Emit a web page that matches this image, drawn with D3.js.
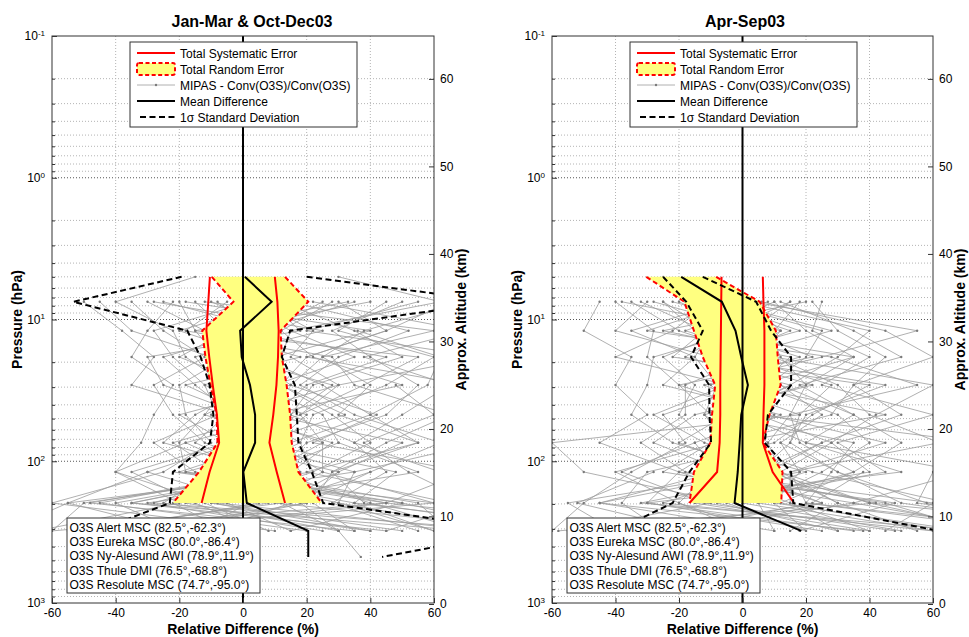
<!DOCTYPE html>
<html>
<head>
<meta charset="utf-8">
<script src="https://cdn.jsdelivr.net/npm/d3@7"></script>
<style>
  body { margin: 0; background: #fff; }
  svg { font-family: "Liberation Sans", Arial, sans-serif; }
</style>
</head>
<body>
<svg id="chart" width="969" height="637"></svg>
<script>
// pressure levels (hPa) of the comparison grid
const LEVELS = [5, 7.5, 12, 18.4, 29, 47, 74, 119, 197, 310, 473];
const X_TICKS = [-60, -40, -20, 0, 20, 40, 60];
const ALT_TICKS = [0, 10, 20, 30, 40, 50, 60];
const P_TICKS = [0.1, 1, 10, 100, 1000];
const TITLES = ["Jan-Mar & Oct-Dec03", "Apr-Sep03"];
const LEGEND_LABELS = ["Total Systematic Error", "Total Random Error",
  "MIPAS - Conv(O3S)/Conv(O3S)", "Mean Difference", "1\u03c3 Standard Deviation"];
const STATIONS = ["O3S Alert MSC (82.5\u00b0,-62.3\u00b0)", "O3S Eureka MSC (80.0\u00b0,-86.4\u00b0)",
  "O3S Ny-Alesund AWI (78.9\u00b0,11.9\u00b0)", "O3S Thule DMI (76.5\u00b0,-68.8\u00b0)",
  "O3S Resolute MSC (74.7\u00b0,-95.0\u00b0)"];

// Jan-Mar & Oct-Dec
const W_MEAN = [0.6, 9.0, -0.9, -0.4, 2.2, 3.8, 3.8, 0.1, 1.2, 20.5, 20.5];
const W_SD_LO = [-19.3, -53.3, -17.5, -13.3, -10.5, -9.3, -10.4, -22, -23, -46, -2.3];
const W_SD_HI = [20, 80, 14.8, 12.2, 16.3, 16.9, 17.4, 21.6, 25.2, 87, 43.7];
const W_SYS_LO = [-10.4, -10.9, -11.5, -10.6, -9.5, -8.2, -7.5, -10.5, -13];
const W_SYS_HI = [10.0, 10.8, 11.2, 11.0, 10.5, 9.5, 8.3, 10.6, 13.2];
const W_RND_LO = [-9.8, -3.0, -12.8, -11.8, -10.2, -8.3, -8.0, -13.8, -22];
const W_RND_HI = [13.2, 20.5, 11.8, 12.2, 13.7, 14.8, 15.3, 17.4, 24.7];
const W_PROFILES = [
  [null, -20, -15, -8, 6, 12, 3, -10, -25, 40],
  [null, 5, 22, 15, 30, 18, 25, 8, 20, -35],
  [-15, -40, -22, -18, -5, -12, -20, -18, 35, 60],
  [null, 30, 45, 20, 12, 28, 40, 22, -8, 75],
  [null, -8, 3, -25, -15, -3, 5, 15, -40, -20],
  [null, 18, -5, 5, 25, 40, 15, -12, 50, 90],
  [30, 62, 15, 35, 10, 5, -8, 30, 12, -55],
  [null, -30, -12, -5, -20, -18, -10, -25, -60, 10],
  [null, 12, 35, 50, 22, 15, 35, 45, 28, 55],
  [null, -45, -35, -10, 8, -5, -15, 5, 15, -10],
  [null, 25, 8, -15, -8, 20, 10, -5, -18, 30],
  [null, -12, 60, 25, 40, 30, 55, 20, 65, 100],
  [null, 40, -8, 12, -2, -10, 2, 35, -30, 25],
  [null, 2, -28, -22, -12, 8, -22, -8, 5, -45],
  [null, 50, 28, 40, 55, 45, 20, 10, 40, 70],
  [null, -25, 10, 2, 15, -20, -5, -35, -15, 5],
  [null, 8, 18, -30, -25, 0, 12, 18, -50, -60],
  [null, -5, -18, 28, 35, 65, 45, 28, 22, 35],
  [null, 35, 5, 8, -12, -8, -28, -15, 30, 80],
  [null, -18, 40, 10, 5, 25, 30, 55, -5, 15],
  [null, 20, -2, 45, 20, 10, 8, -20, 45, -30],
  [null, -35, -25, -12, -28, -22, -12, 12, -35, 45],
  [null, 15, 52, 30, 18, 35, 62, 40, 10, 95],
  [null, -10, 12, -2, 28, 15, -18, 2, -22, -5],
  [null, 45, 30, 60, 45, 22, 18, -2, 55, 65],
  [null, 0, -10, 18, -18, 2, 25, 25, 8, -50],
  [null, 22, 70, 38, 65, 50, 35, 62, 80, 120],
  [null, -15, -5, -20, 2, -15, -25, 8, -45, 20],
  [null, 28, 12, 22, 50, 8, 50, 30, 18, 30, 37],
  [null, -28, 25, -8, -10, 12, -2, -30, 2, -15],
  [null, 10, -20, 5, 12, 32, 5, 48, 35, 110],
  [null, 55, 20, 75, 30, -2, 28, 15, -10, 40],
  [null, -22, -30, -35, -22, -28, -32, -40, -20, -65],
  [null, 6, 2, -6, -2, 6, 0, -6, -12, 8],
  [null, 65, 45, 20, 70, 60, 75, 35, 30, 60],
  [null, -2, 15, 12, 8, -12, 15, -18, 60, -40],
  [null, 33, -15, 55, 38, 18, -8, 5, -28, 85],
  [null, -50, -38, -28, -35, -5, 8, -12, 12, 30],
  [null, 12, 5, 0, -5, 3, 18, 22, -55, -75],
  [null, 70, 38, 25, 15, 42, 22, 70, 45, 130],
  [null, null, null, null, null, null, null, -30, -55, -20],
  [null, null, null, null, null, null, 10, 25, 60, 85],
  [null, null, null, null, null, null, null, -5, 45, -60],
  [null, null, null, null, null, null, null, 15, -35, 70],
  [null, null, null, null, null, null, -18, -40, -10, 50],
  [null, null, null, null, null, null, null, 40, 20, -25],
  [null, null, null, null, null, null, null, -22, 50, 15],
  [null, null, null, null, null, null, 30, 8, -48, 35],
  [null, null, null, null, 48, 60, 38, 52, 72, 45],
  [null, null, 36, 62, 58, 40, 55, 28, 38, 100]
];

// Apr-Sep
const S_MEAN = [-19.3, -6.5, -2.2, -0.4, 1.7, -0.4, -0.9, -1.5, -2.5, 18.5];
const S_SD_LO = [-25, -17.7, -12.5, -16.2, -10.5, -10.4, -9.9, -16.7, -22, -40];
const S_SD_HI = [-12.5, 4.3, 9.0, 15.3, 15.3, 8.0, 7.0, 15.3, 16.0, 62];
const S_SYS_LO = [-6.6, -6.7, -6.8, -6.9, -7.0, -7.0, -7.2, -8.0, -16.7];
const S_SYS_HI = [6.4, 6.6, 6.9, 6.9, 6.9, 6.6, 6.4, 9.5, 16.2];
const S_RND_LO = [-30.3, -18.3, -15.3, -12.5, -8.6, -9.6, -10.1, -15.3, -16.7];
const S_RND_HI = [-8.3, 5.4, 10.5, 11.1, 12.0, 8.5, 6.4, 12.6, 12.2];
const S_PROFILES = [
  [null, -25, -10, -15, -8, -12, -5, -20, -30, 25],
  [null, 5, 8, 12, 20, 15, 8, 12, 30, 55],
  [null, -35, -20, 5, -2, 8, -15, -8, -45, 10],
  [null, -12, 15, -5, 12, 25, 12, 18, 10, 70],
  [null, 15, -5, -25, -15, -20, -10, -25, 35, -20],
  [-25, -8, 25, 20, 8, 5, 28, 40, -15, 40],
  [null, -18, -15, 10, 30, 40, 62, 15, 20, 90],
  [null, 0, 40, 30, 15, -5, -20, 5, -55, -40],
  [null, -40, -28, -30, -20, -10, 5, -12, 15, 30],
  [null, 18, 10, -10, 45, 20, 15, 30, 50, 110],
  [null, -5, -35, -15, -25, 12, -8, -40, -20, 5],
  [null, 10, 20, 35, 5, 30, 40, 25, 5, 60],
  [null, -28, 5, -8, 22, -15, -28, -5, 25, -10],
  [null, -15, -8, 18, -10, 0, 20, 50, -30, 35],
  [null, 22, 30, 45, 35, 50, 25, 8, 40, 80],
  [null, -10, -22, -40, -5, -28, -12, 20, -10, -55],
  [null, 3, 55, 25, -12, 10, 2, -15, 60, 45],
  [null, -22, 12, 0, 28, 18, -60, -50, -5, 20],
  [null, 8, -18, 8, 10, -8, 35, 28, 20, 100],
  [null, -32, -12, -22, 40, 22, 10, -30, -38, -25],
  [null, 12, 35, 50, 18, 35, 50, 35, 12, 65],
  [null, -20, 0, -28, -30, -35, -22, 10, 30, 15],
  [null, 20, -25, 15, 5, 5, 75, 60, 55, 120],
  [null, -8, 18, -12, 0, 45, -2, -10, -20, 0],
  [null, -2, -30, 28, 55, 15, 18, 35, 0, 50],
  [null, -38, 8, 3, -18, -18, -32, -18, 45, 75],
  [null, 25, 22, 40, 25, 60, 30, 45, -8, 30],
  [null, -12, -5, -18, 15, -2, 8, 0, 25, -35],
  [null, 6, 45, 60, 35, 28, -5, 22, 65, 95],
  [null, -30, -40, -10, 2, -25, -18, -35, -50, -60],
  [null, 15, 2, 22, -20, 8, 45, 15, 15, 40],
  [null, -6, 28, -2, 12, 35, 20, 70, 35, 85],
  [null, -25, -15, 35, 20, -12, 0, -8, 5, 10],
  [null, 2, 12, 5, -8, 18, 15, 5, -25, 60],
  [null, -45, -50, -35, -40, -30, -45, -20, 10, 20],
  [null, 10, -10, 10, 60, 42, 28, 12, 40, 130],
  [null, null, null, null, null, null, null, -28, -52, -15],
  [null, null, null, null, null, null, 12, 30, 58, 88],
  [null, null, null, null, null, null, null, -8, 42, -58],
  [null, null, null, null, null, null, null, 18, -32, 72],
  [null, null, null, null, null, null, -15, -38, -12, 48],
  [null, null, null, null, null, null, null, 38, 22, -22],
  [null, null, null, null, null, null, null, -20, 48, 18],
  [null, null, null, null, null, null, 25, 5, -45, 38]
];

const FONT = '"Liberation Sans", Arial, sans-serif';
const Y_TOP = 36, Y_BOT = 603;
const svg = d3.select("#chart");

const y = d3.scaleLog().domain([0.1, 1000]).range([Y_TOP, Y_BOT]);
const alt = d3.scaleLinear().domain([0, 64.9]).range([604, Y_TOP]);

const PANELS = [
  {x0: 52, x1: 434, titleX: 252, title: TITLES[0], mean: W_MEAN, sdLo: W_SD_LO, sdHi: W_SD_HI,
   sysLo: W_SYS_LO, sysHi: W_SYS_HI, rndLo: W_RND_LO, rndHi: W_RND_HI, profiles: W_PROFILES},
  {x0: 552, x1: 933, titleX: 745, title: TITLES[1], mean: S_MEAN, sdLo: S_SD_LO, sdHi: S_SD_HI,
   sysLo: S_SYS_LO, sysHi: S_SYS_HI, rndLo: S_RND_LO, rndHi: S_RND_HI, profiles: S_PROFILES}
];

const minorP = [];
for (let e = -1; e < 3; e++) for (let m = 2; m <= 9; m++) minorP.push(m * Math.pow(10, e));

function profileLine(x) {
  return d3.line()
    .defined(d => d != null)
    .x(d => x(d))
    .y((d, i) => y(LEVELS[i]));
}

function drawPanel(p, idx) {
  const x = d3.scaleLinear().domain([-60, 60]).range([p.x0, p.x1]);
  const g = svg.append("g");

  svg.append("clipPath").attr("id", "clip" + idx).append("rect")
    .attr("x", p.x0).attr("y", Y_TOP)
    .attr("width", p.x1 - p.x0).attr("height", Y_BOT - Y_TOP);

  // grid
  g.append("g").selectAll("line").data(minorP).join("line")
    .attr("x1", p.x0).attr("x2", p.x1)
    .attr("y1", d => y(d)).attr("y2", d => y(d))
    .attr("stroke", "#b4b4b4").attr("stroke-dasharray", "1,2");
  g.append("g").selectAll("line").data(P_TICKS.slice(1, 4)).join("line")
    .attr("x1", p.x0).attr("x2", p.x1)
    .attr("y1", d => y(d)).attr("y2", d => y(d))
    .attr("stroke", "#555").attr("stroke-dasharray", "1,2");
  g.append("g").selectAll("line").data(X_TICKS.slice(1, 6)).join("line")
    .attr("x1", d => x(d)).attr("x2", d => x(d))
    .attr("y1", Y_TOP).attr("y2", Y_BOT)
    .attr("stroke", "#b4b4b4").attr("stroke-dasharray", "1,2");

  const plot = g.append("g").attr("clip-path", `url(#clip${idx})`);
  const line = profileLine(x);

  // individual differences
  const prof = plot.append("g");
  prof.selectAll("path").data(p.profiles).join("path")
    .attr("d", d => line(d))
    .attr("fill", "none").attr("stroke", "#9c9c9c").attr("stroke-width", 0.8);
  p.profiles.forEach(pr => {
    prof.append("g").selectAll("circle")
      .data(pr.map((v, i) => ({v, i})).filter(d => d.v != null))
      .join("circle")
      .attr("cx", d => x(d.v)).attr("cy", d => y(LEVELS[d.i]))
      .attr("r", 1.2).attr("fill", "#7a7a7a");
  });

  // random error band
  const idxs = d3.range(p.rndLo.length);
  const area = d3.area()
    .x0(i => x(p.rndLo[i])).x1(i => x(p.rndHi[i]))
    .y(i => y(LEVELS[i]));
  plot.append("path").attr("d", area(idxs)).attr("fill", "#ffff80");
  [p.rndLo, p.rndHi].forEach(arr => {
    plot.append("path").attr("d", line(arr))
      .attr("fill", "none").attr("stroke", "#ff0000").attr("stroke-width", 2)
      .attr("stroke-dasharray", "5,3");
  });

  // systematic error
  [p.sysLo, p.sysHi].forEach(arr => {
    plot.append("path").attr("d", line(arr))
      .attr("fill", "none").attr("stroke", "#ff0000").attr("stroke-width", 2);
  });

  // standard deviation
  [p.sdLo, p.sdHi].forEach(arr => {
    plot.append("path").attr("d", line(arr))
      .attr("fill", "none").attr("stroke", "#000").attr("stroke-width", 2)
      .attr("stroke-dasharray", "6,3.5");
  });

  // mean difference
  plot.append("path").attr("d", line(p.mean))
    .attr("fill", "none").attr("stroke", "#000").attr("stroke-width", 2);

  // zero line
  plot.append("line")
    .attr("x1", x(0)).attr("x2", x(0)).attr("y1", Y_TOP).attr("y2", Y_BOT)
    .attr("stroke", "#000").attr("stroke-width", 2);

  // box
  g.append("rect")
    .attr("x", p.x0).attr("y", Y_TOP)
    .attr("width", p.x1 - p.x0).attr("height", Y_BOT - Y_TOP)
    .attr("fill", "none").attr("stroke", "#333").attr("stroke-width", 1);

  // x axis
  const gx = g.append("g").attr("transform", `translate(0,${Y_BOT})`)
    .call(d3.axisBottom(x).tickValues(X_TICKS).tickSize(-5).tickPadding(5)
      .tickFormat(d => String(d)));
  gx.attr("font-family", FONT).attr("font-size", 12);
  gx.select(".domain").remove();
  gx.selectAll("line").attr("stroke", "#333");
  gx.selectAll("text").attr("fill", "#000");

  // pressure axis
  const gy = g.append("g").attr("transform", `translate(${p.x0},0)`)
    .call(d3.axisLeft(y).tickValues(P_TICKS).tickSize(-5).tickPadding(7).tickFormat(() => ""));
  gy.attr("font-family", FONT).attr("font-size", 12);
  gy.select(".domain").remove();
  gy.selectAll("line").attr("stroke", "#333");
  gy.selectAll(".tick text").attr("fill", "#000").each(function(d) {
    const t = d3.select(this);
    t.append("tspan").text("10");
    t.append("tspan").attr("dy", "-0.55em").attr("font-size", 8)
      .text(Math.round(Math.log10(d)));
  });
  const gym = g.append("g").attr("transform", `translate(${p.x0},0)`)
    .call(d3.axisLeft(y).tickValues(minorP).tickSize(-3).tickFormat(() => ""));
  gym.select(".domain").remove();
  gym.selectAll("line").attr("stroke", "#333");

  // altitude axis
  const ga = g.append("g").attr("transform", `translate(${p.x1},0)`)
    .call(d3.axisRight(alt).tickValues(ALT_TICKS).tickSize(-5).tickPadding(6)
      .tickFormat(d => String(d)));
  ga.attr("font-family", FONT).attr("font-size", 12);
  ga.select(".domain").remove();
  ga.selectAll("line").attr("stroke", "#333");
  ga.selectAll("text").attr("fill", "#000");

  // titles and axis labels
  g.append("text").attr("x", p.titleX).attr("y", 27)
    .attr("text-anchor", "middle").attr("font-weight", "bold").attr("font-size", 16)
    .text(p.title);
  g.append("text").attr("x", (p.x0 + p.x1) / 2).attr("y", 633.5)
    .attr("text-anchor", "middle").attr("font-weight", "bold").attr("font-size", 14)
    .text("Relative Difference (%)");
  g.append("text").attr("transform", `translate(${p.x0 - 30},319.5) rotate(-90)`)
    .attr("text-anchor", "middle").attr("font-weight", "bold").attr("font-size", 14)
    .text("Pressure (hPa)");
  g.append("text").attr("transform", `translate(${p.x1 + 32},319.5) rotate(-90)`)
    .attr("text-anchor", "middle").attr("font-weight", "bold").attr("font-size", 14)
    .text("Approx. Altitude (km)");

  // top legend
  const lx = p.x0 + 78, ly = 42;
  const lg = g.append("g").attr("font-size", 12);
  lg.append("rect").attr("x", lx).attr("y", ly).attr("width", 227).attr("height", 85)
    .attr("fill", "#fff").attr("stroke", "#333");
  LEGEND_LABELS.forEach((lab, i) => {
    const cy = ly + 11 + i * 16;
    const sx0 = lx + 7, sx1 = lx + 45;
    if (i === 0) {
      lg.append("line").attr("x1", sx0).attr("x2", sx1).attr("y1", cy).attr("y2", cy)
        .attr("stroke", "#ff0000").attr("stroke-width", 2);
    } else if (i === 1) {
      lg.append("rect").attr("x", sx0).attr("y", cy - 6).attr("width", sx1 - sx0).attr("height", 12)
        .attr("rx", 2).attr("fill", "#ffff80").attr("stroke", "#ff0000").attr("stroke-width", 2)
        .attr("stroke-dasharray", "4,2.5");
    } else if (i === 2) {
      lg.append("line").attr("x1", sx0).attr("x2", sx1).attr("y1", cy).attr("y2", cy)
        .attr("stroke", "#9c9c9c").attr("stroke-width", 0.8);
      lg.append("circle").attr("cx", (sx0 + sx1) / 2).attr("cy", cy).attr("r", 1.2).attr("fill", "#7a7a7a");
    } else if (i === 3) {
      lg.append("line").attr("x1", sx0).attr("x2", sx1).attr("y1", cy).attr("y2", cy)
        .attr("stroke", "#000").attr("stroke-width", 2);
    } else {
      lg.append("line").attr("x1", sx0 + 3).attr("x2", sx1).attr("y1", cy).attr("y2", cy)
        .attr("stroke", "#000").attr("stroke-width", 2).attr("stroke-dasharray", "6,3.5");
    }
    lg.append("text").attr("x", lx + 50).attr("y", cy + 4.5).text(lab);
  });

  // station legend
  const bx = p.x0 + 15, by = 518;
  const bg = g.append("g").attr("font-size", 12);
  bg.append("rect").attr("x", bx).attr("y", by).attr("width", 193).attr("height", 75)
    .attr("fill", "#fff").attr("stroke", "#333");
  STATIONS.forEach((s, i) => {
    bg.append("text").attr("x", bx + 2.5).attr("y", by + 14 + i * 14.2).text(s);
  });
}

PANELS.forEach(drawPanel);
</script>
</body>
</html>
